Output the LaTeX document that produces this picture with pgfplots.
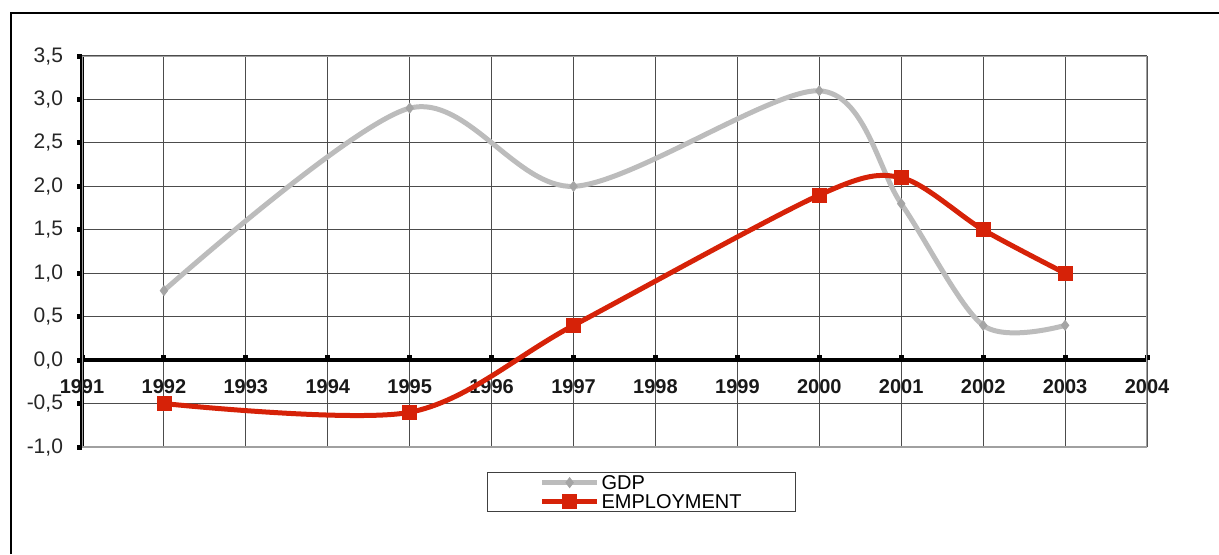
\documentclass[border=0pt]{standalone}
\usepackage{fontspec}
\setmainfont{Liberation Sans}
\usepackage{pgfplots}
\pgfplotsset{compat=1.18}
\definecolor{gdpgray}{RGB}{188,188,188}
\definecolor{gdpmark}{RGB}{165,165,165}
\definecolor{empred}{RGB}{214,34,8}
\definecolor{framegray}{RGB}{160,160,160}

\begin{document}
\fontsize{10}{12}\selectfont
\begin{tikzpicture}
\useasboundingbox (0,0) rectangle (609.5pt,277pt);
\draw[line width=1pt] (5.5pt,0) -- (5.5pt,270.5pt) -- (609.5pt,270.5pt);
\begin{axis}[
    at={(41pt,53.5pt)}, anchor=south west,
    width=532.5pt, height=195.5pt, scale only axis,
    xmin=1991, xmax=2004, ymin=-1, ymax=3.5,
    axis x line=middle, axis y line=left,
    axis line style={-, line width=2pt, black},
    xtick={1991,1992,1993,1994,1995,1996,1997,1998,1999,2000,2001,2002,2003,2004},
    xticklabels={1991,1992,1993,1994,1995,1996,1997,1998,1999,2000,2001,2002,2003,2004},
    ytick={-1,-0.5,0,0.5,1,1.5,2,2.5,3,3.5},
    hide obscured x ticks=false,
    grid=major,
    grid style={black!70, line width=0.55pt},
    major tick length=2.5pt,
    tick style={black, line width=2.5pt},
    xtick align=inside, ytick align=outside,
    /pgf/number format/assume math mode=true,
    yticklabel style={/pgf/number format/fixed, /pgf/number format/fixed zerofill,
        /pgf/number format/precision=1, /pgf/number format/use comma,
        font=\fontsize{10.5}{12}\selectfont, xshift=-3.5pt, text=black!85},
    x tick label style={font=\bfseries, yshift=-6pt, text=black!90},
    legend style={at={(0.3803,-0.064)}, anchor=north west, draw=black!75, line width=0.6pt,
        inner xsep=26pt, inner ysep=1.5pt, row sep=2.5pt, font=\fontsize{10}{10}\selectfont,
        nodes={inner ysep=0pt, inner xsep=1pt, text height=7pt, text depth=0pt}},
    legend cell align=left,
    legend image code/.code={\draw[#1, mark repeat=2, mark phase=2] plot coordinates {(0pt,0pt) (13.75pt,0pt) (27.5pt,0pt)};},
]
\draw[framegray, line width=1pt] (rel axis cs:0,0) rectangle (rel axis cs:1,1);
\addplot[gdpgray, line width=2.5pt, smooth, mark=diamond*, mark size=2.5pt,
    mark options={solid, fill=gdpmark, draw=gdpmark, line width=0.4pt}]
    coordinates {(1992,0.8) (1995,2.9) (1997,2.0) (2000,3.1) (2001,1.8) (2002,0.4) (2003,0.4)};
\addlegendentry{GDP}
\addplot[empred, line width=2.5pt, smooth, mark=square*, mark size=3.5pt,
    mark options={solid, fill=empred, draw=empred, line width=0.4pt}]
    coordinates {(1992,-0.5) (1995,-0.6) (1997,0.4) (2000,1.9) (2001,2.1) (2002,1.5) (2003,1.0)};
\addlegendentry{EMPLOYMENT}
\end{axis}
\end{tikzpicture}
\end{document}
